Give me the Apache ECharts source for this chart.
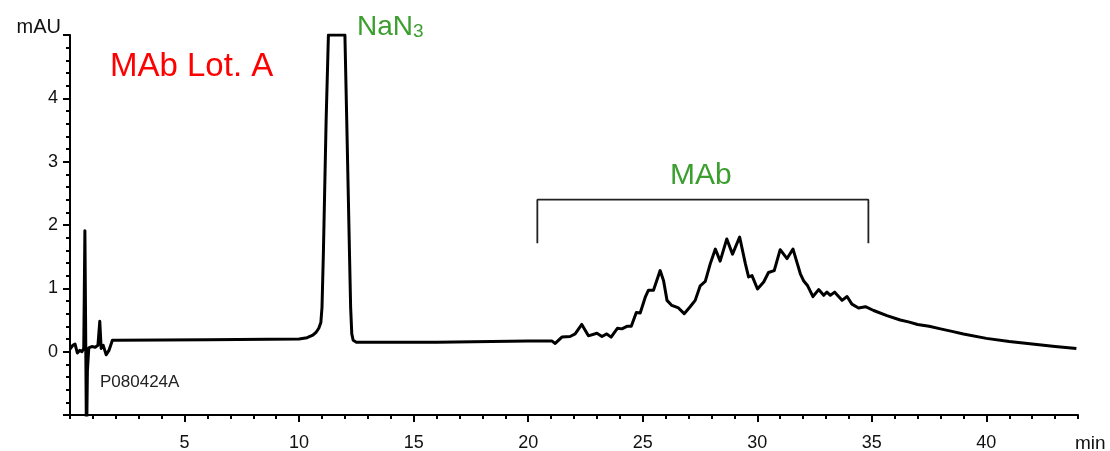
<!DOCTYPE html>
<html>
<head>
<meta charset="utf-8">
<title>MAb Lot. A</title>
<script src="https://cdn.jsdelivr.net/npm/echarts@6/dist/echarts.min.js"></script>
<style>
  html, body { margin: 0; padding: 0; background: #fff; }
  #chart { width: 1110px; height: 451px; }
</style>
</head>
<body>
<div id="chart"></div>
<script>
// retention time (min) and absorbance (mAU)
var time = [
  0, 0.12, 0.22, 0.32, 0.42, 0.52, 0.6, 0.65, 0.68, 0.72, 0.76, 0.82, 0.95, 1.1, 1.22, 1.3, 1.36, 1.45, 1.58, 1.7, 1.85,
  2, 6, 10, 10.35, 10.6, 10.75, 10.86, 10.95, 11.0, 11.06, 11.18, 11.28, 12, 12.08, 12.2, 12.25, 12.3, 12.36, 12.5, 16, 20,
  21.03, 21.18, 21.47, 21.83, 22.05, 22.34, 22.63, 23, 23.22, 23.43, 23.62, 23.9, 24.09, 24.31, 24.5,
  24.72, 24.89, 25.11, 25.25, 25.47, 25.76, 25.91, 26.06, 26.27, 26.56, 26.81, 27.07, 27.29, 27.51,
  27.73, 27.95, 28.17, 28.38, 28.67, 28.92, 29.23, 29.48, 29.62, 29.77, 30.01, 30.28, 30.49, 30.74,
  31, 31.3, 31.56, 31.88, 32.02, 32.2, 32.43, 32.68, 32.9, 33.04, 33.19, 33.38, 33.7, 33.92, 34.13,
  34.42, 34.72, 35.08, 35.66, 36.24, 36.6, 37, 37.5, 38, 38.5, 39, 40, 41, 42, 43, 43.93
];
var mAU = [
  0.04, 0.1, 0.12, -0.02, 0.02, 0, 0.05, 1.91, 0.5, -1.5, -0.3, 0.06, 0.08, 0.07, 0.1, 0.48, 0.05, 0.1, -0.05, 0.02, 0.18,
  0.18, 0.19, 0.2, 0.22, 0.26, 0.31, 0.37, 0.46, 0.7, 1.55, 3.65, 5, 5, 3.65, 1.55, 0.7, 0.28, 0.18, 0.15, 0.15, 0.17,
  0.17, 0.13, 0.23, 0.24, 0.28, 0.43, 0.25, 0.29, 0.24, 0.28, 0.23, 0.37, 0.36, 0.4, 0.4,
  0.62, 0.61, 0.86, 0.97, 0.97, 1.28, 1.12, 0.81, 0.73, 0.69, 0.6, 0.71, 0.81, 1.04,
  1.11, 1.39, 1.62, 1.43, 1.78, 1.54, 1.81, 1.39, 1.18, 1.2, 0.99, 1.1, 1.25, 1.28,
  1.61, 1.47, 1.62, 1.23, 1.12, 1.04, 0.87, 0.98, 0.89, 0.94, 0.89, 0.94, 0.81, 0.87, 0.75,
  0.69, 0.71, 0.65, 0.57, 0.5, 0.47, 0.43, 0.4, 0.36, 0.32, 0.28, 0.21, 0.16, 0.12, 0.08, 0.05
];

// bracket over the MAb region
var bracketX = [20.4, 20.4, 34.85, 34.85];
var bracketY = [1.71, 2.4, 2.4, 1.71];

var xMajor = [5, 10, 15, 20, 25, 30, 35, 40];
var yMajor = [0, 1, 2, 3, 4];

var font = '"Liberation Sans", Arial, sans-serif';
var green = '#3c9e2f';

var chart = echarts.init(document.getElementById('chart'), null, { renderer: 'canvas' });

function zip(a, b) {
  return a.map(function (v, i) { return [v, b[i]]; });
}

var axisLineStyle = { color: '#000', width: 2 };

chart.setOption({
  animation: false,
  backgroundColor: '#fff',
  grid: { left: 70, right: 32, top: 35, bottom: 36, outerBoundsMode: 'none' },
  xAxis: [
    {
      // minute ticks
      type: 'value', min: 0, max: 44, interval: 1, position: 'bottom',
      axisLine: { onZero: false, lineStyle: axisLineStyle },
      axisTick: { length: 4, lineStyle: { color: '#000', width: 2 } },
      axisLabel: { show: false },
      splitLine: { show: false }
    },
    {
      // labelled ticks every 5 min
      type: 'value', min: 0, max: 44, interval: 5, position: 'bottom',
      name: 'min', nameLocation: 'end', nameGap: -3,
      nameTextStyle: { fontFamily: font, fontSize: 19, color: '#111', verticalAlign: 'top', align: 'left', padding: [19, 0, 0, 0] },
      axisLine: { show: false, onZero: false },
      axisTick: { length: 7, customValues: xMajor, lineStyle: { color: '#000', width: 2 } },
      axisLabel: { customValues: xMajor, margin: 19, fontFamily: font, fontSize: 18, color: '#111' },
      splitLine: { show: false }
    }
  ],
  yAxis: [
    {
      type: 'value', min: -1, max: 5, interval: 0.2, position: 'left',
      axisLine: { onZero: false, lineStyle: axisLineStyle },
      axisTick: { length: 4, lineStyle: { color: '#000', width: 2 } },
      axisLabel: { show: false },
      splitLine: { show: false }
    },
    {
      type: 'value', min: -1, max: 5, interval: 1, position: 'left',
      name: 'mAU', nameLocation: 'end', nameGap: -2,
      nameTextStyle: { fontFamily: font, fontSize: 20, color: '#111', align: 'right', verticalAlign: 'bottom', padding: [0, 9, 0, 0] },
      axisLine: { show: false, onZero: false },
      axisTick: { length: 7, lineStyle: { color: '#000', width: 2 } },
      axisLabel: { customValues: yMajor, margin: 12, fontFamily: font, fontSize: 18, color: '#111' },
      splitLine: { show: false }
    }
  ],
  series: [
    {
      name: 'trace',
      type: 'line',
      xAxisIndex: 0,
      yAxisIndex: 0,
      data: zip(time, mAU),
      showSymbol: false,
      clip: true,
      lineStyle: { color: '#000', width: 3, join: 'round' }
    },
    {
      name: 'bracket',
      type: 'line',
      xAxisIndex: 0,
      yAxisIndex: 0,
      data: zip(bracketX, bracketY),
      showSymbol: false,
      lineStyle: { color: '#222', width: 1.8 }
    }
  ],
  graphic: [
    { type: 'text', left: 110, top: 50, style: { text: 'MAb Lot. A', font: '33px ' + font, fill: '#ff0000' } },
    { type: 'text', left: 357, top: 13, style: { text: 'NaN', font: '28px ' + font, fill: green } },
    { type: 'text', left: 413, top: 22, style: { text: '3', font: '19px ' + font, fill: green } },
    { type: 'text', left: 670, top: 161, style: { text: 'MAb', font: '30px ' + font, fill: green } },
    { type: 'text', left: 100, top: 374, style: { text: 'P080424A', font: '17px ' + font, fill: '#222' } }
  ]
});
</script>
</body>
</html>
